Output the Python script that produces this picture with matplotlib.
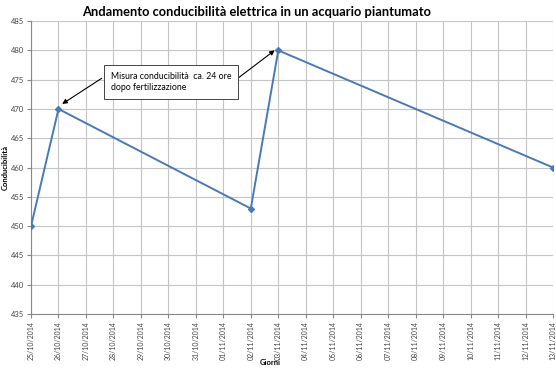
import matplotlib
matplotlib.use("Agg")
import matplotlib.pyplot as plt
import matplotlib.dates as mdates
import datetime as dt

title = "Andamento conducibilità elettrica in un acquario piantumato"
dates = ["25/10/2014", "26/10/2014", "02/11/2014", "03/11/2014", "13/11/2014"]
values = [450, 470, 453, 480, 460]
note = "Misura conducibilità  ca. 24 ore\ndopo fertilizzazione"

plt.rcParams['font.family'] = ['Lato', 'DejaVu Sans']

d = [dt.datetime.strptime(s, "%d/%m/%Y") for s in dates]

fig = plt.figure(figsize=(5.56, 3.70), dpi=100)
ax = fig.add_axes([0.0558, 0.1514, 0.9388, 0.7916])

ax.plot(d, values, color="#4A7AB4", lw=1.4, marker="D", ms=3, zorder=3)

ax.set_xlim(d[0], d[-1])
ax.set_ylim(435, 485)
ax.set_yticks(range(435, 486, 5))
ax.xaxis.set_major_locator(mdates.DayLocator())
ax.xaxis.set_major_formatter(mdates.DateFormatter("%d/%m/%Y"))
ax.grid(True, color="#C4C4C4", lw=0.8)
ax.set_axisbelow(True)
for s in ["top", "right"]:
    ax.spines[s].set_visible(False)
for s in ["left", "bottom"]:
    ax.spines[s].set_color("#888888")
ax.tick_params(axis="both", colors="#888888", length=3, pad=2)
ax.tick_params(axis="x", labelsize=5, rotation=90, labelcolor="#444444")
ax.tick_params(axis="y", labelsize=5.5, labelcolor="#444444")

fig.text(0.462, 0.968, title, fontsize=9.3, fontweight="bold", ha="center", va="center")
ax.set_xlabel("Giorni", fontsize=5.5, fontweight="bold")
ax.xaxis.set_label_coords(0.458, -0.155)
ax.set_ylabel("Conducibilità", fontsize=5.5, fontweight="bold")
ax.yaxis.set_label_coords(-0.042, 0.5)

t0 = d[0]
day = dt.timedelta(days=1)
ax.text(t0 + 2.9 * day, 474.6, note, fontsize=6.3, ha="left", va="center",
        linespacing=1.4,
        bbox=dict(boxstyle="square,pad=0.75", fc="white", ec="#444444", lw=0.7), zorder=5)
ax.annotate("", xy=(d[1] + 0.05 * day, 470.6), xytext=(t0 + 2.66 * day, 475.5),
            arrowprops=dict(arrowstyle="-|>", color="black", lw=0.8, mutation_scale=7), zorder=4)
ax.annotate("", xy=(d[3] - 0.05 * day, 480.3), xytext=(t0 + 7.35 * day, 474.6),
            arrowprops=dict(arrowstyle="-|>", color="black", lw=0.8, mutation_scale=7), zorder=4)

fig.savefig("out.png", dpi=100)
